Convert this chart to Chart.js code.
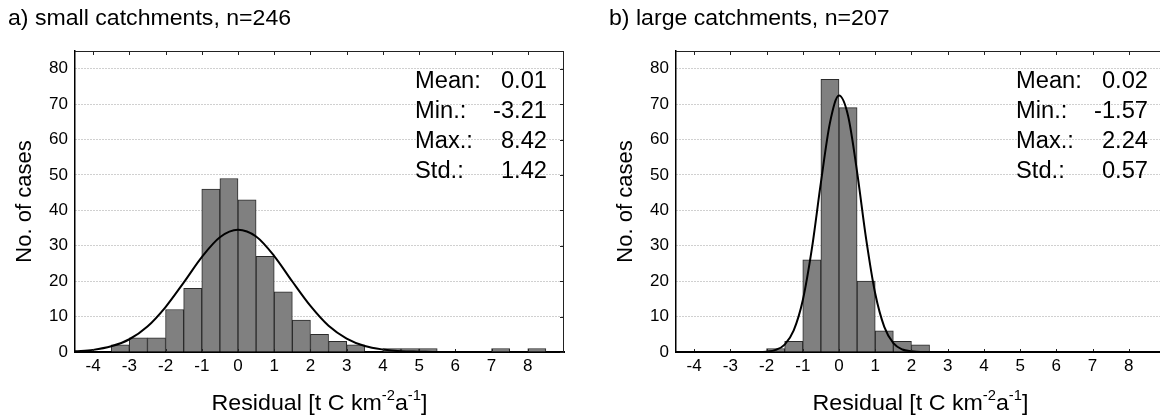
<!DOCTYPE html>
<html><head><meta charset="utf-8">
<script src="https://cdn.jsdelivr.net/npm/chart.js@4/dist/chart.umd.min.js"></script>
<style>
html,body{margin:0;padding:0;background:#fff;overflow:hidden;width:1160px;height:418px;}
.panel{position:absolute;top:0;width:601px;height:418px;}
#pa{left:0}#pb{left:601px}
</style></head><body>
<div class="panel" id="pa"><canvas id="ca" width="601" height="418"></canvas></div>
<div class="panel" id="pb"><canvas id="cb" width="601" height="418"></canvas></div>
<script>
// ---- data ----
const xTicks = [-4,-3,-2,-1,0,1,2,3,4,5,6,7,8];
const yTicks = [0,10,20,30,40,50,60,70,80];
const statLabels = ['Mean:','Min.:','Max.:','Std.:'];

const smallTitle = 'a) small catchments, n=246';
const smallBinCenters = [-3.25,-2.75,-2.25,-1.75,-1.25,-0.75,-0.25,0.25,0.75,1.25,1.75,2.25,2.75,3.25,4.25,4.75,5.25,7.25,8.25];
const smallCounts     = [2,4,4,12,18,46,49,43,27,17,9,5,3,2,1,1,1,1,1];
const smallStats = ['0.01','-3.21','8.42','1.42'];
const smallCurveX = [-4.5,-4,-3.5,-3,-2.5,-2,-1.5,-1,-0.5,0,0.5,1,1.5,2,2.5,3,3.5,4,4.5,5,5.5,6];
const smallCurveY = [0.2,0.6,1.6,3.6,7.2,12.7,19.6,26.8,32.4,34.5,32.6,27.1,19.9,13.0,7.4,3.8,1.7,0.7,0.2,0.1,0,0];

const largeTitle = 'b) large catchments, n=207';
const largeBinCenters = [-1.75,-1.25,-0.75,-0.25,0.25,0.75,1.25,1.75,2.25];
const largeCounts     = [1,3,26,77,69,20,6,3,2];
const largeStats = ['0.02','-1.57','2.24','0.57'];
const largeCurveX = [-2.5,-2.25,-2,-1.75,-1.5,-1.25,-1,-0.75,-0.5,-0.25,0,0.25,0.5,0.75,1,1.25,1.5,1.75,2,2.25,2.5];
const largeCurveY = [0,0,0.1,0.6,2.1,6.1,14.6,29.1,47.8,64.7,72.4,66.7,50.8,31.9,16.5,7.1,2.5,0.7,0.2,0,0];

const xTitleParts = [['Residual [t C km',false],['-2',true],['a',false],['-1',true],[']',false]];
const yTitle = 'No. of cases';

// ---- drawing ----
const FONT = "'Liberation Sans', Arial, Helvetica, sans-serif";

function stretchText(ctx, text, x, y, align, sx){
  ctx.save();
  ctx.translate(x, y);
  ctx.scale(sx, 1);
  ctx.textAlign = align;
  ctx.fillText(text, 0, 0);
  ctx.restore();
}

function decorPlugin(title, stats){
  return {
    id:'decor',
    afterDraw(chart){
      const {ctx, chartArea:a, scales:{x,y}} = chart;
      ctx.save();
      ctx.strokeStyle = '#222'; ctx.lineWidth = 1;
      ctx.beginPath();
      ctx.moveTo(a.left, a.top+0.5); ctx.lineTo(a.right, a.top+0.5);
      ctx.moveTo(a.right-0.5, a.top); ctx.lineTo(a.right-0.5, a.bottom);
      xTicks.forEach(v=>{
        const px = Math.round(x.getPixelForValue(v))+0.5;
        ctx.moveTo(px, a.top); ctx.lineTo(px, a.top+4);
        ctx.moveTo(px, a.bottom-1); ctx.lineTo(px, a.bottom-3);
      });
      yTicks.forEach(v=>{
        const py = Math.round(y.getPixelForValue(v))+0.5;
        ctx.moveTo(a.right, py); ctx.lineTo(a.right-4, py);
      });
      ctx.stroke();

      ctx.fillStyle = '#000';
      ctx.textBaseline = 'alphabetic';
      ctx.font = '22px ' + FONT;
      stretchText(ctx, title, 8, 25, 'left', 1.05);

      ctx.font = '23px ' + FONT;
      statLabels.forEach((l,i)=>{
        stretchText(ctx, l, 415, 88+30*i, 'left', 1.03);
        stretchText(ctx, stats[i], 547, 88+30*i, 'right', 1.03);
      });

      // x axis title with superscripts
      const sx = 1.055;
      const mainF = '22px ' + FONT, supF = '14px ' + FONT;
      let total = 0;
      const widths = xTitleParts.map(([t,sup])=>{ ctx.font = sup?supF:mainF; const w = ctx.measureText(t).width*sx; total += w; return w; });
      let cx = (a.left+a.right)/2 - total/2;
      xTitleParts.forEach(([t,sup],i)=>{
        ctx.font = sup?supF:mainF;
        stretchText(ctx, t, cx, sup ? 400 : 410, 'left', sx);
        cx += widths[i];
      });
      ctx.restore();
    }
  };
}

function makeChart(id, title, centers, counts, cx, cy, stats){
  return new Chart(document.getElementById(id), {
    type:'bar',
    data:{
      datasets:[
        { type:'line', data: cx.map((v,i)=>({x:v, y:cy[i]})), borderColor:'#000', borderWidth:2,
          pointRadius:0, fill:false, cubicInterpolationMode:'monotone', order:1 },
        { type:'bar', data: centers.map((v,i)=>({x:v, y:counts[i]})), backgroundColor:'#808080',
          borderColor:'#2b2b2b', borderWidth:1, barPercentage:1, categoryPercentage:1, order:2 }
      ]
    },
    options:{
      responsive:false, animation:false, devicePixelRatio:1,
      layout:{padding:{top:51,right:37,left:0,bottom:0}},
      plugins:{legend:{display:false}, tooltip:{enabled:false}, title:{display:false}},
      scales:{
        x:{ type:'linear', min:-4.5, max:9, offset:false, z:1,
            grid:{display:false, offset:false, drawTicks:false},
            border:{display:true, color:'#000', width:2},
            afterBuildTicks(s){ s.ticks = xTicks.map(v=>({value:v})); },
            afterFit(s){ s.height = 66; },
            ticks:{ autoSkip:false, maxRotation:0, padding:4, color:'#000', font:{family:FONT, size:17} } },
        y:{ type:'linear', min:0, max:85,
            grid:{display:true, color:'#a0a0a0', lineWidth:1, drawTicks:false},
            border:{display:true, color:'#000', width:1.5, dash:[1,2]},
            afterBuildTicks(s){ s.ticks = yTicks.map(v=>({value:v})); },
            afterFit(s){ s.width = 75; },
            ticks:{ padding:7, color:'#000', font:{family:FONT, size:17} },
            title:{ display:true, text:yTitle, color:'#000', font:{family:FONT, size:22}, padding:{top:12,bottom:0} } }
      }
    },
    plugins:[decorPlugin(title, stats)]
  });
}

makeChart('ca', smallTitle, smallBinCenters, smallCounts, smallCurveX, smallCurveY, smallStats);
makeChart('cb', largeTitle, largeBinCenters, largeCounts, largeCurveX, largeCurveY, largeStats);
</script>
</body></html>
